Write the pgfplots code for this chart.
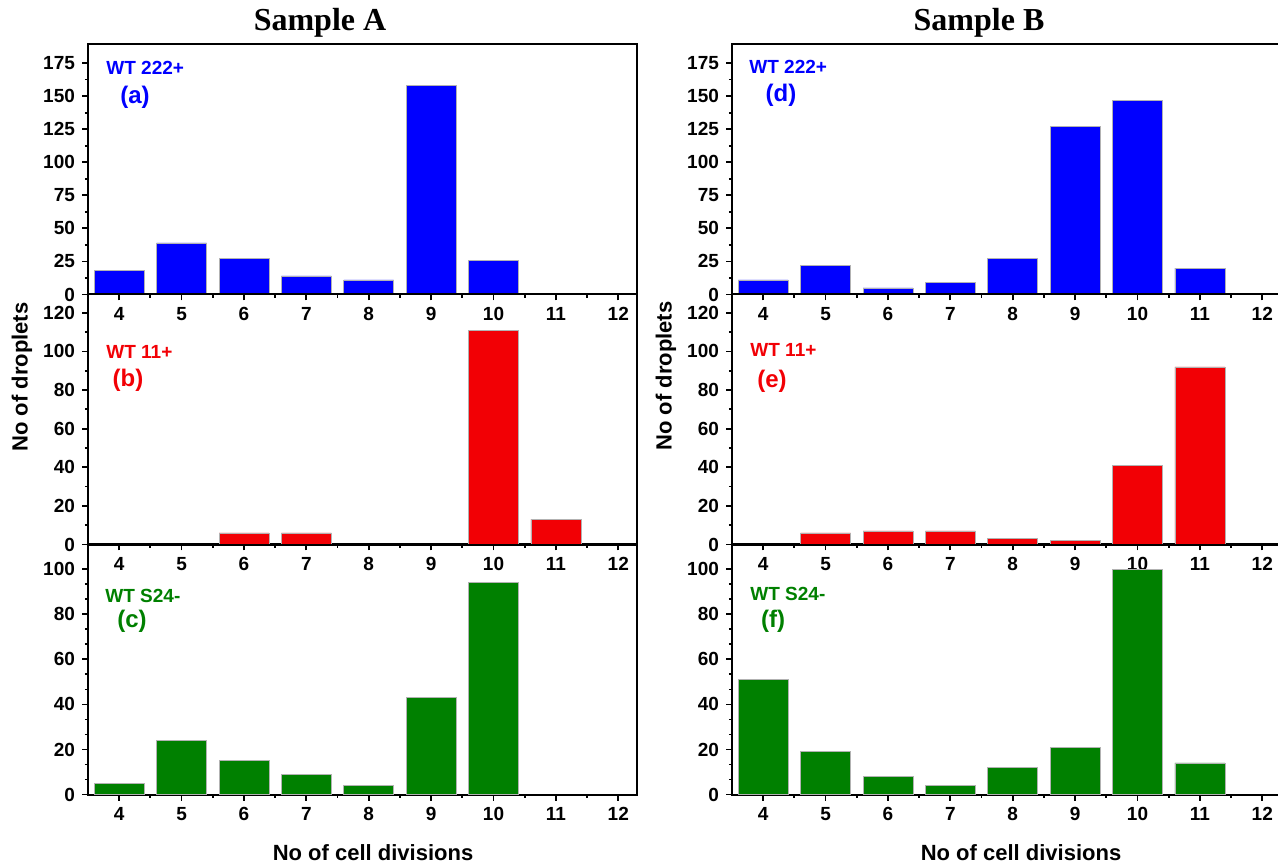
\documentclass[border=0pt]{standalone}
\usepackage{pgfplots}
\pgfplotsset{compat=1.18}
\usepackage{fontspec}
\setmainfont{Liberation Sans}
\newfontfamily\titlefont{Liberation Serif}
\definecolor{barblue}{RGB}{0,0,255}
\definecolor{barred}{RGB}{242,0,5}
\definecolor{bargreen}{RGB}{0,128,0}

\pgfplotsset{
 panel/.style={
  scale only axis, width=274.5pt, height=125pt,
  anchor=north west,
  xmin=3.5, xmax=12.3,
  xtick={4,...,12},
  minor xtick={4.5,5.5,...,11.5},
  ymin=0,
  axis line style={line width=1pt},
  tick align=outside,
  tick pos=left,
  major tick length=3pt, minor tick length=1.6pt,
  major tick style={black, line width=0.9pt},
  minor tick style={black, line width=0.9pt},
  ticklabel style={font=\fontsize{9.5}{10}\selectfont\bfseries},
  /pgf/number format/assume math mode=true,
  ybar, bar width=0.8,
 },
 toppanel/.style={panel, ymax=189, ytick={0,25,...,175}, minor ytick={12.5,37.5,...,162.5}},
 midpanel/.style={panel, ymax=129.5, ytick={0,20,...,120}, minor y tick num=1},
 botpanel/.style={panel, ymax=111, ytick={0,20,...,100}, minor y tick num=2},
}

\begin{document}
\begin{tikzpicture}[x=0.5pt,y=-0.5pt]
% ---------- Sample A ----------
\begin{axis}[toppanel, at={(44pt,-22.25pt)}]
\addplot[fill=barblue, draw=gray!60, line width=0.3pt] coordinates {(4,18) (5,39) (6,27) (7,14) (8,11) (9,158) (10,26)};
\end{axis}
\begin{axis}[midpanel, at={(44pt,-147.25pt)}]
\addplot[fill=barred, draw=gray!60, line width=0.3pt] coordinates {(6,6) (7,6) (10,111) (11,13)};
\end{axis}
\begin{axis}[botpanel, at={(44pt,-272.25pt)}]
\addplot[fill=bargreen, draw=gray!60, line width=0.3pt] coordinates {(4,5) (5,24) (6,15) (7,9) (8,4) (9,43) (10,94)};
\end{axis}
% ---------- Sample B ----------
\begin{axis}[toppanel, at={(366pt,-22.25pt)}]
\addplot[fill=barblue, draw=gray!60, line width=0.3pt] coordinates {(4,11) (5,22) (6,5) (7,9) (8,27) (9,127) (10,147) (11,20)};
\end{axis}
\begin{axis}[midpanel, at={(366pt,-147.25pt)}]
\addplot[fill=barred, draw=gray!60, line width=0.3pt] coordinates {(5,6) (6,7) (7,7) (8,3) (9,2) (10,41) (11,92)};
\end{axis}
\begin{axis}[botpanel, at={(366pt,-272.25pt)}]
\addplot[fill=bargreen, draw=gray!60, line width=0.3pt] coordinates {(4,51) (5,19) (6,8) (7,4) (8,12) (9,21) (10,100) (11,14)};
\end{axis}

% titles
\node[font=\titlefont\bfseries\fontsize{16}{18}\selectfont] at (320,23) {Sample A};
\node[font=\titlefont\bfseries\fontsize{16}{18}\selectfont] at (979,23) {Sample B};
% axis labels
\node[rotate=90, font=\bfseries\fontsize{11}{12}\selectfont] at (22,377) {No of droplets};
\node[rotate=90, font=\bfseries\fontsize{11}{12}\selectfont] at (666,376) {No of droplets};
\node[font=\bfseries\fontsize{11}{12}\selectfont] at (373,853) {No of cell divisions};
\node[font=\bfseries\fontsize{11}{12}\selectfont] at (1021,853) {No of cell divisions};
% panel annotations
\tikzset{ann/.style={anchor=west, inner sep=0pt, font=\bfseries\fontsize{9.5}{10}\selectfont},
         lab/.style={inner sep=0pt, font=\bfseries\fontsize{12}{13}\selectfont}}
\node[ann, text=barblue] at (106,67.5) {WT 222+};
\node[lab, text=barblue] at (135,97) {(a)};
\node[ann, text=barred] at (106,352) {WT 11+};
\node[lab, text=barred] at (128,380) {(b)};
\node[ann, text=bargreen] at (105,596) {WT S24-};
\node[lab, text=bargreen] at (132,621) {(c)};
\node[ann, text=barblue] at (749,67) {WT 222+};
\node[lab, text=barblue] at (781,95) {(d)};
\node[ann, text=barred] at (750,350) {WT 11+};
\node[lab, text=barred] at (772,381) {(e)};
\node[ann, text=bargreen] at (750,594) {WT S24-};
\node[lab, text=bargreen] at (773,621) {(f)};

\pgfresetboundingbox
\path[use as bounding box] (0,0) rectangle (1278,865);
\end{tikzpicture}
\end{document}
